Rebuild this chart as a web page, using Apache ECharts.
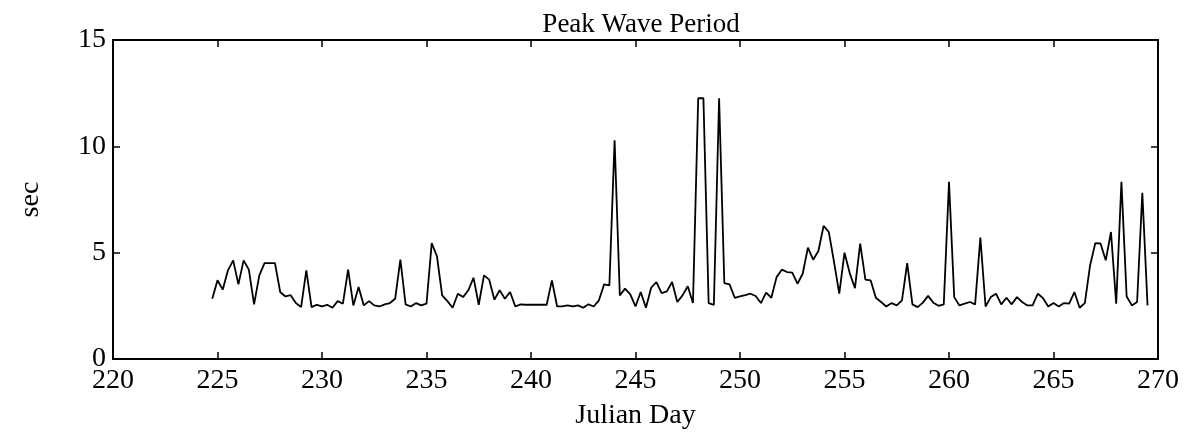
<!DOCTYPE html>
<html>
<head>
<meta charset="utf-8">
<script src="https://cdn.jsdelivr.net/npm/echarts@6/dist/echarts.min.js"></script>
<style>
  html, body { margin: 0; padding: 0; background: #fff; }
  #chart { width: 1187px; height: 446px; }
</style>
</head>
<body>
<div id="chart"></div>
<script>
const titleText = 'Peak Wave Period';
const xAxisName = 'Julian Day';
const yAxisName = 'sec';
const xTicks = [220, 225, 230, 235, 240, 245, 250, 255, 260, 265, 270];
const yTicks = [0, 5, 10, 15];

const julianDay = [
  224.75,
  225.00, 225.25, 225.50, 225.75, 226.00, 226.25, 226.50, 226.75,
  227.00, 227.25, 227.50, 227.75, 228.00, 228.25, 228.50, 228.75,
  229.00, 229.25, 229.50, 229.75, 230.00, 230.25, 230.50, 230.75,
  231.00, 231.25, 231.50, 231.75, 232.00, 232.25, 232.50, 232.75,
  233.00, 233.25, 233.50, 233.75, 234.00, 234.25, 234.50, 234.75,
  235.00, 235.25, 235.50, 235.75, 236.00, 236.25, 236.50, 236.75,
  237.00, 237.25, 237.50, 237.75, 238.00, 238.25, 238.50, 238.75,
  239.00, 239.25, 239.50, 239.75, 240.00, 240.25, 240.50, 240.75,
  241.00, 241.25, 241.50, 241.75, 242.00, 242.25, 242.50, 242.75,
  243.00, 243.25, 243.50, 243.75, 244.00, 244.25, 244.50, 244.75,
  245.00, 245.25, 245.50, 245.75, 246.00, 246.25, 246.50, 246.75,
  247.00, 247.25, 247.50, 247.75, 248.00, 248.25, 248.50, 248.75,
  249.00, 249.25, 249.50, 249.75, 250.00, 250.25, 250.50, 250.75,
  251.00, 251.25, 251.50, 251.75, 252.00, 252.25, 252.50, 252.75,
  253.00, 253.25, 253.50, 253.75, 254.00, 254.25, 254.50, 254.75,
  255.00, 255.25, 255.50, 255.75, 256.00, 256.25, 256.50, 256.75,
  257.00, 257.25, 257.50, 257.75, 258.00, 258.25, 258.50, 258.75,
  259.00, 259.25, 259.50, 259.75, 260.00, 260.25, 260.50, 260.75,
  261.00, 261.25, 261.50, 261.75, 262.00, 262.25, 262.50, 262.75,
  263.00, 263.25, 263.50, 263.75, 264.00, 264.25, 264.50, 264.75,
  265.00, 265.25, 265.50, 265.75, 266.00, 266.25, 266.50, 266.75,
  267.00, 267.25, 267.50, 267.75, 268.00, 268.25, 268.50, 268.75,
  269.00, 269.25, 269.50
];

const peakPeriod = [
  2.83,
  3.70, 3.26, 4.17, 4.64, 3.51, 4.64, 4.20, 2.57,
  3.93, 4.51, 4.51, 4.51, 3.15, 2.94, 3.00, 2.63,
  2.44, 4.17, 2.44, 2.55, 2.47, 2.55, 2.41, 2.72,
  2.60, 4.20, 2.52, 3.38, 2.52, 2.72, 2.52, 2.47,
  2.57, 2.63, 2.83, 4.67, 2.57, 2.47, 2.63, 2.52,
  2.60, 5.45, 4.83, 2.99, 2.72, 2.41, 3.07, 2.91,
  3.23, 3.82, 2.55, 3.93, 3.73, 2.79, 3.23, 2.83,
  3.15, 2.47, 2.57, 2.55, 2.55, 2.55, 2.55, 2.55,
  3.70, 2.47, 2.47, 2.52, 2.47, 2.52, 2.41, 2.57,
  2.47, 2.76, 3.51, 3.46, 10.29, 2.99, 3.31, 3.04,
  2.47, 3.15, 2.41, 3.35, 3.62, 3.10, 3.18, 3.62,
  2.68, 2.99, 3.42, 2.63, 12.26, 12.26, 2.63, 2.55,
  12.26, 3.57, 3.51, 2.88, 2.94, 3.00, 3.07, 2.96,
  2.63, 3.12, 2.88, 3.85, 4.20, 4.09, 4.06, 3.54,
  4.01, 5.24, 4.67, 5.08, 6.26, 5.97, 4.56, 3.07,
  5.00, 4.04, 3.33, 5.43, 3.73, 3.70, 2.88, 2.68,
  2.47, 2.63, 2.52, 2.76, 4.51, 2.57, 2.44, 2.65,
  2.97, 2.65, 2.50, 2.57, 8.33, 2.91, 2.52, 2.60,
  2.68, 2.57, 5.71, 2.47, 2.91, 3.07, 2.57, 2.88,
  2.57, 2.91, 2.68, 2.52, 2.52, 3.07, 2.86, 2.47,
  2.63, 2.47, 2.63, 2.60, 3.15, 2.41, 2.63, 4.40,
  5.45, 5.43, 4.64, 5.97, 2.60, 8.33, 2.94, 2.52,
  2.68, 7.81, 2.52
];

const seriesData = julianDay.map((d, i) => [d, peakPeriod[i]]);

const serif = 'Liberation Serif, Times New Roman, serif';
const chart = echarts.init(document.getElementById('chart'), null, { renderer: 'canvas' });

const xBase = {
  type: 'value', min: xTicks[0], max: xTicks[xTicks.length - 1], interval: 5,
  axisLine: { show: true, onZero: false, lineStyle: { color: '#000', width: 2 } },
  axisTick: { show: true, inside: true, length: 7, lineStyle: { color: '#000', width: 1.5 } },
  splitLine: { show: false }
};
const yBase = {
  type: 'value', min: yTicks[0], max: yTicks[yTicks.length - 1], interval: 5,
  axisLine: { show: true, onZero: false, lineStyle: { color: '#000', width: 2 } },
  axisTick: { show: true, inside: true, length: 7, lineStyle: { color: '#000', width: 1.5 } },
  splitLine: { show: false }
};

chart.setOption({
  animation: false,
  backgroundColor: '#fff',
  title: {
    text: titleText, left: 636, top: 6, textAlign: 'center',
    textStyle: { fontFamily: serif, fontSize: 27, fontWeight: 'normal', color: '#000' }
  },
  grid: { left: 113, right: 29, top: 40, bottom: 87 },
  xAxis: [
    Object.assign({}, xBase, {
      position: 'bottom',
      name: xAxisName, nameLocation: 'middle', nameGap: 43,
      nameTextStyle: { fontFamily: serif, fontSize: 28, color: '#000' },
      axisLabel: { show: true, fontFamily: serif, fontSize: 28, color: '#000', margin: 8 }
    }),
    Object.assign({}, xBase, { position: 'top', axisLabel: { show: false } })
  ],
  yAxis: [
    Object.assign({}, yBase, {
      position: 'left',
      name: yAxisName, nameLocation: 'middle', nameGap: 68, nameRotate: 90,
      nameTextStyle: { fontFamily: serif, fontSize: 28, color: '#000' },
      axisLabel: { show: true, fontFamily: serif, fontSize: 28, color: '#000', margin: 7 }
    }),
    Object.assign({}, yBase, { position: 'right', axisLabel: { show: false } })
  ],
  series: [{
    type: 'line',
    data: seriesData,
    xAxisIndex: 0, yAxisIndex: 0,
    showSymbol: false,
    symbol: 'none',
    lineStyle: { color: '#000', width: 1.8 },
    z: 3
  }]
});
</script>
</body>
</html>
